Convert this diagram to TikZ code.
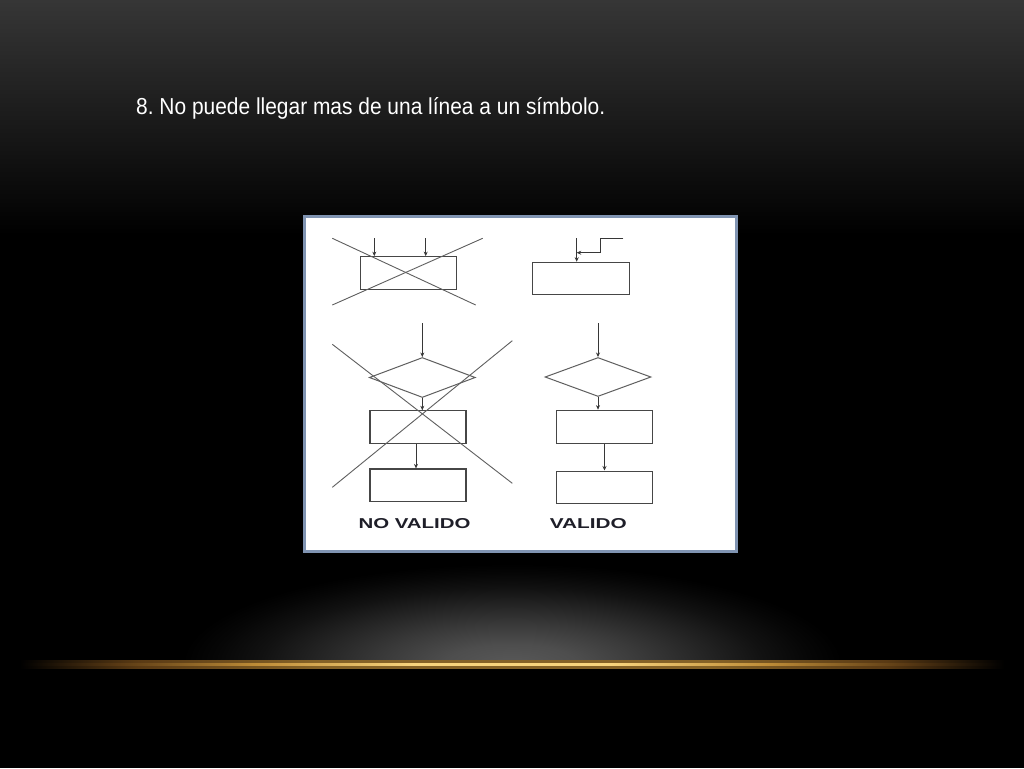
\documentclass[tikz,border=0pt]{standalone}
\usepackage{fontspec}
\setmainfont{Liberation Sans}
\usetikzlibrary{arrows.meta,shapes.geometric}
\definecolor{topbg}{RGB}{54,54,54}
\definecolor{glowc}{RGB}{88,88,88}
\definecolor{golddark}{RGB}{90,58,20}
\definecolor{goldmid}{RGB}{190,140,55}
\definecolor{goldlite}{RGB}{248,212,125}
\definecolor{framec}{RGB}{128,148,178}
\definecolor{boxc}{RGB}{70,70,70}
\definecolor{lnc}{RGB}{95,95,95}
\definecolor{arrc}{RGB}{55,55,55}
\definecolor{lblc}{RGB}{30,30,40}
\pgfdeclarehorizontalshading{goldglow}{100bp}{color(0bp)=(black); color(25bp)=(black); color(31bp)=(golddark); color(40bp)=(goldmid!70!black); color(60bp)=(goldmid!70!black); color(69bp)=(golddark); color(75bp)=(black); color(100bp)=(black)}
\pgfdeclarehorizontalshading{goldcore}{100bp}{color(0bp)=(black); color(25bp)=(black); color(30bp)=(golddark); color(37bp)=(goldmid); color(45bp)=(goldlite); color(55bp)=(goldlite); color(63bp)=(goldmid); color(70bp)=(golddark); color(75bp)=(black); color(100bp)=(black)}
\pgfdeclareradialshading{softglow}{\pgfpoint{0bp}{0bp}}{color(0bp)=(glowc); color(5bp)=(glowc!88!black); color(10bp)=(glowc!65!black); color(15bp)=(glowc!40!black); color(19bp)=(glowc!20!black); color(22.5bp)=(glowc!7!black); color(25bp)=(black); color(50bp)=(black)}
\begin{document}
\frenchspacing
\begin{tikzpicture}[x=1pt,y=-1pt,
  box/.style={draw=boxc, line width=1.1pt, minimum width=96pt, minimum height=33pt, inner sep=0pt},
  dia/.style={diamond, draw=lnc, line width=1pt, minimum width=106pt, minimum height=40pt, inner sep=0pt},
  xln/.style={draw=lnc, line width=0.9pt},
  arr/.style={draw=arrc, line width=1pt, -{Stealth[length=4.5pt,width=4pt]}},
  lbl/.style={inner sep=0pt, text=lblc}]
\useasboundingbox (0,0) rectangle (1024,768);
\fill[black] (0,0) rectangle (1024,768);
\shade[top color=topbg, bottom color=black] (0,0) rectangle (1024,235);
% bottom glow
\begin{scope}
  \clip (0,520) rectangle (1024,664);
  \shade[shading=softglow] (512,664) ellipse [x radius=330, y radius=100];
\end{scope}
\shade[shading=goldglow] (20,660.5) rectangle (1004,668);
\shade[shading=goldcore] (20,663) rectangle (1004,665.5);
% title
\node[anchor=base west, inner sep=0pt, text=white] (title) at (136,114.5)
  {\resizebox{469pt}{17pt}{8. No puede llegar mas de una línea a un símbolo.}};
% panel
\node[draw=framec, line width=3pt, fill=white, minimum width=432pt, minimum height=335pt, inner sep=0pt] (panel) at (520,383.5) {};
% top-left (not valid)
\node[box, minimum height=32.6pt] (tl) at (408.7,273) {};
\coordinate (tla) at (374.3,238);
\coordinate (tlb) at (425.7,238);
\draw[arr] (tla) -- (tla |- tl.north);
\draw[arr] (tlb) -- (tlb |- tl.north);
\coordinate (x1a) at (332.3,238.3);
\coordinate (x1b) at (475.7,305);
\coordinate (x2a) at (332.3,305);
\coordinate (x2b) at (482.7,238.3);
\draw[xln] (x1a) -- (x1b);
\draw[xln] (x2a) -- (x2b);
% top-right (valid)
\node[box, minimum height=32pt, minimum width=96.7pt] (tr) at (580.7,278.3) {};
\coordinate (tra) at (576.7,238);
\draw[arr] (tra) -- (tra |- tr.north);
\coordinate (trs) at (623.3,238.3);
\coordinate (trk) at (600,252.7);
\draw[arr] (trs) -| (trk) -- (tra |- trk);
% bottom-left (not valid)
\node[dia] (ld) at (422.3,377.5) {};
\coordinate (ldin) at (422.3,323);
\draw[arr] (ldin) -- (ld.north);
\node[box] (l2) at (418,427.3) {};
\draw[arr] (ld.south) -- (ld.south |- l2.north);
\node[box, minimum height=32.7pt] (l3) at (418,485.3) {};
\draw[arr] ([xshift=-2pt]l2.south) -- ([xshift=-2pt]l3.north);
\coordinate (y1a) at (332.3,344.3);
\coordinate (y1b) at (512.3,483.3);
\coordinate (y2a) at (332.3,487.3);
\coordinate (y2b) at (512.3,340.7);
\draw[xln] (y1a) -- (y1b);
\draw[xln] (y2a) -- (y2b);
% bottom-right (valid)
\node[dia, minimum height=39pt] (rd) at (598,377) {};
\coordinate (rdin) at (598,323);
\draw[arr] (rdin) -- (rd.north);
\node[box, minimum width=95.6pt] (r2) at (604.5,426.7) {};
\draw[arr] (rd.south) -- (rd.south |- r2.north);
\node[box, minimum width=95.6pt, minimum height=32.3pt] (r3) at (604.5,487.2) {};
\draw[arr] (r2.south) -- (r3.north);
% labels
\node[lbl] (nv) at (414.5,524) {\resizebox{112pt}{10pt}{\bfseries NO VALIDO}};
\node[lbl] (va) at (588.3,524) {\resizebox{77pt}{10pt}{\bfseries VALIDO}};
\end{tikzpicture}
\end{document}
